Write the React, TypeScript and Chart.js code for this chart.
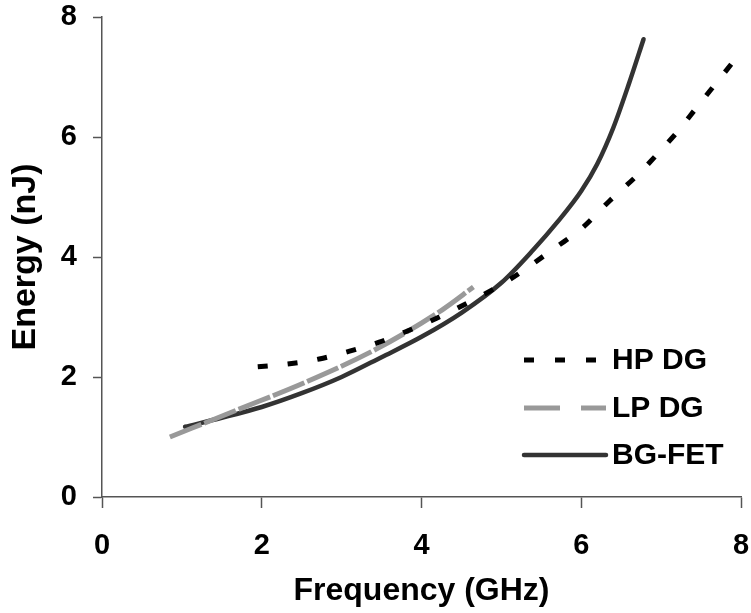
import React, { useEffect, useRef } from "react";
import { Chart, registerables } from "chart.js";

Chart.register(...registerables);

// ---- Data ----
const hpDgX = [1.95, 2.35, 2.72, 3.1, 3.47, 3.83, 4.19, 4.6, 5.1, 5.69, 6.01, 6.35, 6.73, 6.99, 7.2, 7.45, 7.69, 7.9];
const hpDgY = [2.17, 2.22, 2.3, 2.43, 2.58, 2.77, 2.98, 3.25, 3.62, 4.17, 4.48, 4.93, 5.4, 5.77, 6.08, 6.5, 6.9, 7.25];

const lpDgX = [0.85, 1.69, 2.56, 3.44, 4.26, 4.65];
const lpDgY = [1.0, 1.45, 1.92, 2.47, 3.12, 3.5];

const bgFetX = [1.04, 1.5, 2.0, 2.5, 3.0, 3.5, 4.0, 4.5, 5.0, 5.4, 5.7, 6.0, 6.2, 6.4, 6.6, 6.78];
const bgFetY = [1.17, 1.32, 1.5, 1.73, 2.0, 2.33, 2.67, 3.07, 3.57, 4.12, 4.58, 5.1, 5.55, 6.15, 6.9, 7.63];

const seriesLabels = ["HP DG", "LP DG", "BG-FET"];
const xTicks = [0, 2, 4, 6, 8];
const yTicks = [0, 2, 4, 6, 8];
const xTitle = "Frequency (GHz)";
const yTitle = "Energy (nJ)";

const FONT = '"Liberation Sans", Arial, sans-serif';
const AXIS_COLOR = "#555555";

const toPoints = (xs: number[], ys: number[]) => xs.map((x, i) => ({ x, y: ys[i] }));

const legendDashes = [[10, 21], [36, 21], []];
const legendCaps: CanvasLineCap[] = ["butt", "butt", "round"];

const legendPlugin = {
  id: "insideLegend",
  afterDraw(chart: any) {
    const ctx: CanvasRenderingContext2D = chart.ctx;
    const area = chart.chartArea;
    const x0 = area.left + 422;
    const x1 = area.left + 504;
    const tx = area.left + 510;
    const rowY = [area.top + 343, area.top + 391, area.top + 438];
    chart.data.datasets.forEach((ds: any, i: number) => {
      const y = rowY[i];
      ctx.save();
      ctx.strokeStyle = ds.borderColor;
      ctx.lineWidth = ds.borderWidth;
      ctx.lineCap = legendCaps[i];
      ctx.setLineDash(legendDashes[i]);
      ctx.beginPath();
      ctx.moveTo(x0, y);
      ctx.lineTo(x1, y);
      ctx.stroke();
      ctx.setLineDash([]);
      ctx.fillStyle = "#000000";
      ctx.font = `bold 30px ${FONT}`;
      ctx.textBaseline = "middle";
      ctx.textAlign = "left";
      ctx.fillText(ds.label, tx, y + 1);
      ctx.restore();
    });
  },
};

export default function App() {
  const canvasRef = useRef<HTMLCanvasElement | null>(null);

  useEffect(() => {
    document.body.style.margin = "0";
    const canvas = canvasRef.current;
    if (!canvas) return;
    const chart = new Chart(canvas, {
      type: "scatter",
      data: {
        datasets: [
          {
            label: seriesLabels[0],
            data: toPoints(hpDgX, hpDgY),
            showLine: true,
            borderColor: "#000000",
            borderWidth: 5,
            borderDash: [10, 20],
            borderCapStyle: "butt",
            cubicInterpolationMode: "monotone",
            pointRadius: 0,
            pointHoverRadius: 0,
          },
          {
            label: seriesLabels[1],
            data: toPoints(lpDgX, lpDgY),
            showLine: true,
            borderColor: "#999999",
            borderWidth: 5,
            borderDash: [34, 3],
            borderCapStyle: "butt",
            cubicInterpolationMode: "monotone",
            pointRadius: 0,
            pointHoverRadius: 0,
          },
          {
            label: seriesLabels[2],
            data: toPoints(bgFetX, bgFetY),
            showLine: true,
            borderColor: "#333333",
            borderWidth: 4.5,
            borderCapStyle: "round",
            borderJoinStyle: "round",
            cubicInterpolationMode: "monotone",
            pointRadius: 0,
            pointHoverRadius: 0,
          },
        ],
      },
      options: {
        animation: false,
        responsive: false,
        maintainAspectRatio: false,
        layout: { padding: { top: 17, right: 10, bottom: 0, left: 0 } },
        plugins: {
          legend: { display: false },
          tooltip: { enabled: false },
        },
        scales: {
          x: {
            type: "linear",
            min: 0,
            max: 8,
            afterBuildTicks: (scale: any) => {
              scale.ticks = xTicks.map((v) => ({ value: v }));
            },
            afterFit: (scale: any) => {
              scale.height = 116;
              scale.paddingLeft = 0;
              scale.paddingRight = 0;
            },
            grid: {
              display: true,
              drawOnChartArea: false,
              drawTicks: true,
              tickLength: 11,
              tickColor: AXIS_COLOR,
              tickWidth: 1.5,
            },
            border: { display: true, color: AXIS_COLOR, width: 1.5 },
            ticks: {
              color: "#000000",
              padding: 21,
              maxRotation: 0,
              font: { family: FONT, size: 29, weight: "bold" },
            },
            title: {
              display: true,
              text: xTitle,
              color: "#000000",
              font: { family: FONT, size: 32, weight: "bold" },
              padding: { top: 0, bottom: 3 },
            },
          },
          y: {
            type: "linear",
            min: 0,
            max: 8,
            afterBuildTicks: (scale: any) => {
              scale.ticks = yTicks.map((v) => ({ value: v }));
            },
            afterFit: (scale: any) => {
              scale.width = 102;
              scale.paddingTop = 0;
              scale.paddingBottom = 0;
            },
            grid: {
              display: true,
              drawOnChartArea: false,
              drawTicks: true,
              tickLength: 9,
              tickColor: AXIS_COLOR,
              tickWidth: 1.5,
            },
            border: { display: true, color: AXIS_COLOR, width: 1.5 },
            ticks: {
              color: "#000000",
              padding: 16,
              font: { family: FONT, size: 29, weight: "bold" },
            },
            title: {
              display: true,
              text: yTitle,
              color: "#000000",
              font: { family: FONT, size: 34, weight: "bold" },
              padding: { top: 5, bottom: 0 },
            },
          },
        },
      },
      plugins: [legendPlugin],
    });
    return () => chart.destroy();
  }, []);

  return (
    <div style={{ width: 751, height: 613, background: "#ffffff" }}>
      <canvas ref={canvasRef} width={751} height={613} style={{ display: "block" }} />
    </div>
  );
}
